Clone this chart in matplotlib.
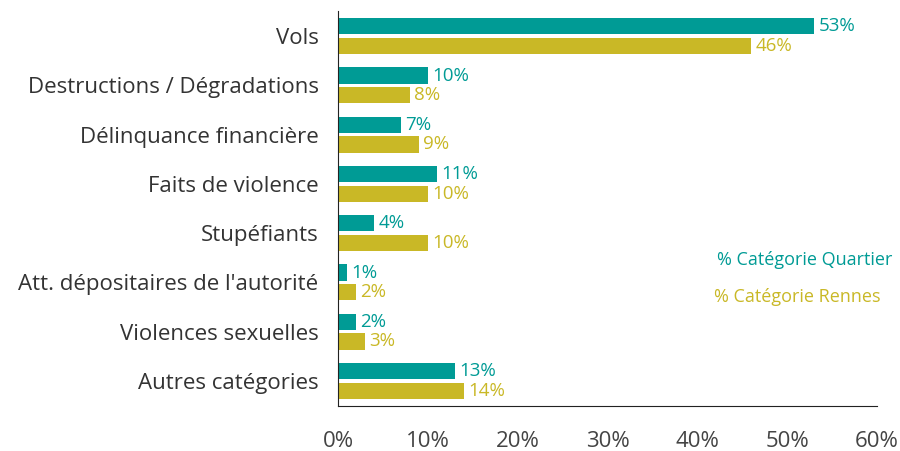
import numpy as np
import matplotlib.pyplot as plt

categories = ["Vols", "Destructions / Dégradations", "Délinquance financière",
              "Faits de violence", "Stupéfiants", "Att. dépositaires de l'autorité",
              "Violences sexuelles", "Autres catégories"]
quartier = [53, 10, 7, 11, 4, 1, 2, 13]
rennes = [46, 8, 9, 10, 10, 2, 3, 14]
xticks = [0, 10, 20, 30, 40, 50, 60]

teal = "#009B95"
gold = "#C9B826"
plt.rcParams['font.family'] = ['Open Sans', 'DejaVu Sans']

fig = plt.figure(figsize=(9, 4.51), dpi=100)
ax = fig.add_axes([338 / 900, 1 - 406 / 451, (877 - 338) / 900, (406 - 11) / 451])

y = np.arange(len(categories))
h = 0.33
ax.barh(y - 0.2, quartier, height=h, color=teal)
ax.barh(y + 0.2, rennes, height=h, color=gold)

for yi, v in zip(y, quartier):
    ax.text(v + 0.5, yi - 0.2, f"{v}%", color=teal, fontsize=13.5, va="center", ha="left")
for yi, v in zip(y, rennes):
    ax.text(v + 0.5, yi + 0.2, f"{v}%", color=gold, fontsize=13.5, va="center", ha="left")

ax.set_ylim(7.51, -0.51)
ax.set_xlim(0, 60)
ax.set_yticks(y)
ax.set_yticklabels(categories, fontsize=16, color="#333333")
ax.set_xticks(xticks)
ax.set_xticklabels([f"{t}%" for t in xticks], fontsize=16, color="#444444")
ax.tick_params(length=0)
ax.tick_params(axis="x", pad=18)
ax.tick_params(axis="y", pad=14)
for s in ["top", "right"]:
    ax.spines[s].set_visible(False)
ax.spines["left"].set_color("#222222")
ax.spines["bottom"].set_color("#222222")

fig.text(805 / 900, 1 - 260 / 451, "% Catégorie Quartier", color=teal, fontsize=13,
         ha="center", va="center")
fig.text(797 / 900, 1 - 297 / 451, "% Catégorie Rennes", color=gold, fontsize=13,
         ha="center", va="center")

fig.savefig("out.png", dpi=100)
